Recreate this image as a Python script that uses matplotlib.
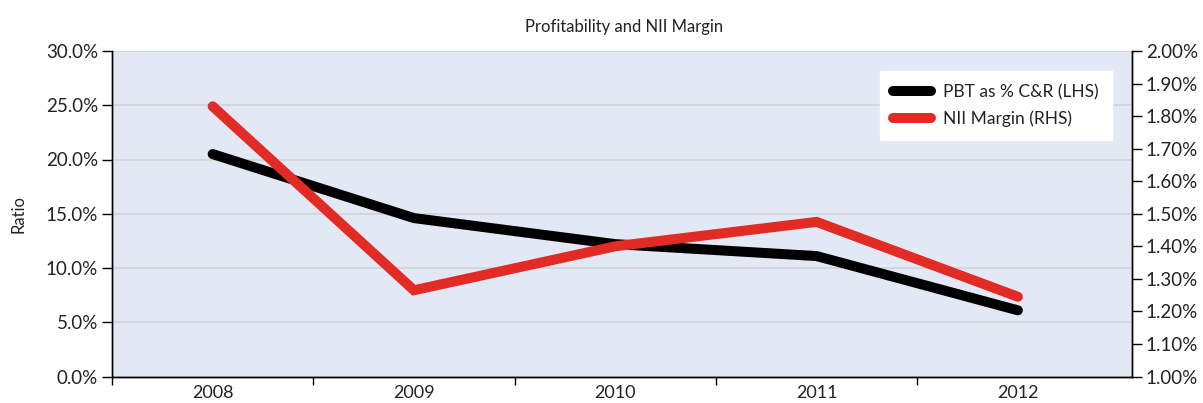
import matplotlib
matplotlib.use("Agg")
import matplotlib.pyplot as plt
from matplotlib.ticker import FuncFormatter, FixedLocator

years = ["2008", "2009", "2010", "2011", "2012"]
pbt_pct = [20.5, 14.6, 12.2, 11.1, 6.1]          # LHS, %
nii_margin = [1.83, 1.265, 1.40, 1.475, 1.245]   # RHS, %
left_ticks = [0, 5, 10, 15, 20, 25, 30]
right_ticks = [1.0, 1.1, 1.2, 1.3, 1.4, 1.5, 1.6, 1.7, 1.8, 1.9, 2.0]

plt.rcParams['font.family'] = ['Lato', 'DejaVu Sans']

W, H = 1203, 403
fig = plt.figure(figsize=(W / 100, H / 100), dpi=100)
ax = fig.add_axes([112 / W, 1 - 376.5 / H, (1132 - 112) / W, (376.5 - 51) / H])
ax.set_facecolor('#E3E8F5')
ax2 = ax.twinx()

x = list(range(len(years)))
l1, = ax.plot(x, pbt_pct, color='black', lw=7.2, solid_capstyle='round',
              solid_joinstyle='miter', label='PBT as % C&R (LHS)', zorder=3)
l2, = ax2.plot(x, nii_margin, color='#E32B26', lw=7.2, solid_capstyle='round',
               solid_joinstyle='miter', label='NII Margin (RHS)', zorder=3)

ax.set_xlim(-0.5, 4.567)
ax.set_ylim(0, 30)
ax2.set_ylim(1.0, 2.0)
ax.set_yticks(left_ticks)
ax2.set_yticks(right_ticks)
ax.yaxis.set_major_formatter(FuncFormatter(lambda v, p: f"{v:.1f}%"))
ax2.yaxis.set_major_formatter(FuncFormatter(lambda v, p: f"{v:.2f}%"))

ax.set_xticks(x)
ax.set_xticklabels(years)
ax.xaxis.set_minor_locator(FixedLocator([-0.5, 0.5, 1.5, 2.5, 3.5]))
ax.tick_params(axis='x', which='major', length=0, pad=6, labelsize=13, colors='#222222')
ax.tick_params(axis='x', which='minor', length=6, width=1, colors='black', direction='out')
ax.tick_params(axis='y', length=7, width=1, labelsize=13.5, labelcolor='#222222', pad=3)
ax2.tick_params(axis='y', length=7, width=1, labelsize=13.5, labelcolor='#222222', pad=3)

ax.grid(axis='y', color='#CFD2D8', lw=1.2, zorder=0)
ax.set_axisbelow(True)
for a in (ax, ax2):
    a.spines['top'].set_visible(False)
    for s in ('left', 'right', 'bottom'):
        a.spines[s].set_linewidth(1)
        a.spines[s].set_color('black')

ax.set_ylabel('Ratio', fontsize=12, color='#222222', labelpad=14)
fig.text(624 / W, 1 - 27 / H, 'Profitability and NII Margin', ha='center', va='center',
         fontsize=12, color='#222222')

leg = ax2.legend(handles=[l1, l2], loc='upper right', bbox_to_anchor=(0.980, 0.939),
                 frameon=True, fancybox=False, fontsize=12.5, handlelength=2.2,
                 borderpad=0.75, labelspacing=0.6, handletextpad=0.7, borderaxespad=0)
leg.get_frame().set_facecolor('white')
leg.get_frame().set_edgecolor('white')
leg.get_frame().set_alpha(1)
for t in leg.get_texts():
    t.set_color('#222222')

fig.savefig('out.png', dpi=100, facecolor='white')
